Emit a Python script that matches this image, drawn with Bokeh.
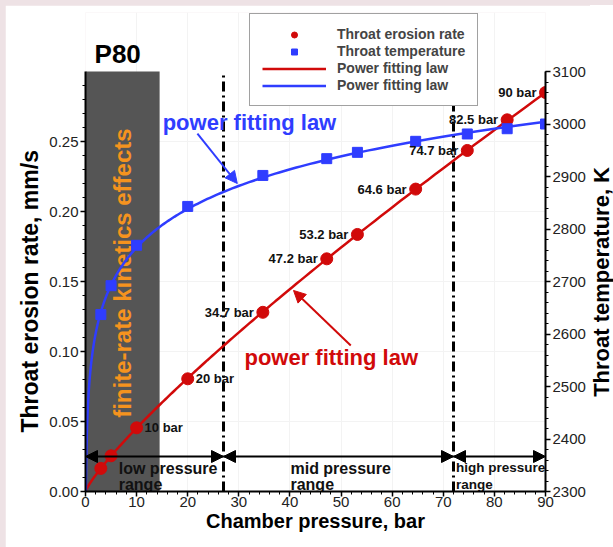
import math
import numpy as np
from bokeh.plotting import figure
from bokeh.layouts import row
from bokeh.models import (Range1d, LinearAxis, SingleIntervalTicker, PrintfTickFormatter,
                          BoxAnnotation, Arrow, NormalHead, Legend, LegendItem, Title, Div)
from bokeh.core.properties import value
from bokeh.embed import file_html
from bokeh.resources import INLINE

# ---------------- data ----------------
pressure = [3, 5, 10, 20, 34.7, 47.2, 53.2, 64.6, 74.7, 82.5, 90]
erosion = [0.0165, 0.0255, 0.0455, 0.0805, 0.128, 0.1662, 0.1836, 0.216, 0.2436, 0.2655, 0.285]
temperature = [2637, 2692, 2769, 2843, 2902, 2934, 2946, 2967, 2981, 2991, 3000]

right_label_p = [10, 20]
right_label_r = [0.0455, 0.0805]
right_label_text = ["10 bar", "20 bar"]
left_label_p = [34.7, 47.2, 53.2, 64.6, 74.7, 82.5, 90]
left_label_r = [0.128, 0.1662, 0.1836, 0.216, 0.2436, 0.2655, 0.285]
left_label_text = ["34.7 bar", "47.2 bar", "53.2 bar", "64.6 bar", "74.7 bar", "82.5 bar", "90 bar"]

range_bounds = [0, 27, 72, 90]
range_names = ["low pressure\nrange", "mid pressure\nrange", "high pressure\nrange"]
kinetic_limit = 14.5

x_axis_range = (0, 90)
erosion_axis_range = (0, 0.30)
temp_axis_range = (2300, 3100)

FONT_NAME = "Liberation Sans"
FONT = value(FONT_NAME)
RED = "#d10a0a"
BLUE = "#2f3dff"
ORANGE = "#f5931e"
PAGE_BAND = "#eee2e5"

# power-law fits of the data (log-log least squares)
lp = np.log(np.array(pressure))
b_r, lna_r = np.polyfit(lp, np.log(np.array(erosion)), 1)
b_t, lna_t = np.polyfit(lp, np.log(np.array(temperature)), 1)
fit_p = np.geomspace(0.02, 90, 400)
fit_r = np.exp(lna_r) * fit_p ** b_r
fit_t = np.exp(lna_t) * fit_p ** b_t

# ---------------- figure ----------------
# frame extends above the axes' top (0.30 / 3100) to hold the legend and the "P80" tag
FRAME_H = 479.0
AXIS_H = 420.0
y_top = erosion_axis_range[0] + (erosion_axis_range[1] - erosion_axis_range[0]) * FRAME_H / AXIS_H
t_top = temp_axis_range[0] + (temp_axis_range[1] - temp_axis_range[0]) * FRAME_H / AXIS_H

p = figure(width=585, height=542, output_backend="svg", toolbar_location=None,
           x_range=Range1d(*x_axis_range), y_range=Range1d(erosion_axis_range[0], y_top),
           min_border_left=80, min_border_right=45, min_border_top=7, min_border_bottom=56,
           margin=(5, 0, 0, 5))
p.title = None
p.extra_y_ranges = {"temp": Range1d(temp_axis_range[0], t_top)}
p.outline_line_color = None
p.background_fill_color = "white"
p.border_fill_color = "white"

p.xgrid.grid_line_color = "#f3f3f3"
p.ygrid.grid_line_color = "#f3f3f3"

# grey kinetics region
p.add_layout(BoxAnnotation(left=0, right=kinetic_limit, bottom=erosion_axis_range[0],
                           top=erosion_axis_range[1], fill_color="#555555", fill_alpha=1.0,
                           line_color=None, level="underlay"))

# axes
p.xaxis.ticker = SingleIntervalTicker(interval=10, num_minor_ticks=5)
p.yaxis.ticker = SingleIntervalTicker(interval=0.05, num_minor_ticks=5)
p.yaxis.formatter = PrintfTickFormatter(format="%.2f")
p.yaxis.bounds = erosion_axis_range
p.xaxis.axis_label = "Chamber pressure, bar"

raxis = LinearAxis(y_range_name="temp", ticker=SingleIntervalTicker(interval=100, num_minor_ticks=5),
                   bounds=temp_axis_range)
p.add_layout(raxis, "right")

for ax in [p.xaxis[0], p.yaxis[0], raxis]:
    ax.axis_line_width = 2
    ax.axis_line_color = "black"
    ax.major_tick_line_width = 1.5
    ax.major_tick_out = 5
    ax.major_tick_in = 0
    ax.minor_tick_out = 3
    ax.minor_tick_in = 0
    ax.minor_tick_line_width = 1
    ax.major_label_text_font = FONT_NAME
    ax.major_label_text_font_size = "15px"
    ax.major_label_text_color = "#222222"
    ax.major_label_standoff = 2
    ax.axis_label_text_font = FONT_NAME
    ax.axis_label_text_font_size = "20px"
    ax.axis_label_text_font_style = "bold"
    ax.axis_label_text_color = "black"
    ax.axis_label_standoff = 3
p.xaxis.major_label_standoff = 0
p.xaxis.axis_label_standoff = 0

# left axis title, aligned to the 0-0.30 axis span
p.add_layout(Title(text="Throat erosion rate, mm/s", align="left", offset=59, standoff=8,
                   text_font=FONT_NAME, text_font_size="23px", text_font_style="bold",
                   text_color="black"), "left")

# region separators (dash-dot)
sep = range_bounds[1:3]
p.segment(x0=sep, y0=[erosion_axis_range[0]] * 2, x1=sep, y1=[erosion_axis_range[1]] * 2,
          line_color="black", line_width=3, line_dash="10 4 2 4")

# range arrows
for i in range(3):
    p.add_layout(Arrow(x_start=range_bounds[i], x_end=range_bounds[i + 1], y_start=0.025, y_end=0.025,
                       line_color="black", line_width=2,
                       start=NormalHead(size=12, fill_color="black", line_color="black"),
                       end=NormalHead(size=12, fill_color="black", line_color="black")))
p.text(x=[range_bounds[0] + 6.5, range_bounds[1] + 13.1], y=[0.0225] * 2, text=range_names[:2],
       text_font=FONT, text_font_size="16px", text_font_style="bold", text_align="left",
       text_baseline="top", text_line_height=0.95, text_color="#111111")
p.text(x=[range_bounds[2] + 0.5], y=[0.0225], text=range_names[2:],
       text_font=FONT, text_font_size="13.5px", text_font_style="bold", text_align="left",
       text_baseline="top", text_line_height=1.1, text_color="#111111")

# kinetics text
p.text(x=[7.2], y=[0.156], text=["finite-rate kinetics effects"], angle=math.pi / 2,
       text_font=FONT, text_font_size="24px", text_font_style="bold", text_color=ORANGE,
       text_align="center", text_baseline="middle")

# fit lines
r_fit_r = p.line(fit_p, fit_r, line_color=RED, line_width=2.5)
r_fit_t = p.line(fit_p, fit_t, line_color=BLUE, line_width=2.5, y_range_name="temp")

# data points
r_ero = p.scatter(pressure, erosion, marker="circle", size=12, fill_color=RED, line_color=RED)
r_tmp = p.scatter(pressure, temperature, marker="square", size=10, fill_color=BLUE, line_color=BLUE,
                  y_range_name="temp")

# point labels
p.text(x=right_label_p, y=right_label_r, text=right_label_text, x_offset=8,
       text_font=FONT, text_font_size="13px", text_font_style="bold", text_align="left",
       text_baseline="middle", text_color="#111111")
p.text(x=left_label_p, y=left_label_r, text=left_label_text, x_offset=-9,
       text_font=FONT, text_font_size="13px", text_font_style="bold", text_align="right",
       text_baseline="middle", text_color="#111111")

# power-law annotations
p.text(x=[15.1], y=[0.2636], text=["power fitting law"], text_font=FONT, text_font_size="22px",
       text_font_style="bold", text_color=BLUE, text_baseline="middle", text_align="left")
p.add_layout(Arrow(x_start=21.9, y_start=0.2557, x_end=29.7, y_end=0.22, line_color=BLUE, line_width=2,
                   end=NormalHead(size=12, fill_color=BLUE, line_color=BLUE)))
p.text(x=[31.1], y=[0.0957], text=["power fitting law"], text_font=FONT, text_font_size="22px",
       text_font_style="bold", text_color=RED, text_baseline="middle", text_align="left")
p.add_layout(Arrow(x_start=51.9, y_start=0.1043, x_end=40.7, y_end=0.1436, line_color=RED, line_width=2,
                   end=NormalHead(size=12, fill_color=RED, line_color=RED)))

# P80 tag above the grey band
p.text(x=[6.3], y=[erosion_axis_range[1]], y_offset=-3, text=["P80"], text_font=FONT,
       text_font_size="26px", text_font_style="bold", text_align="center", text_baseline="bottom",
       text_color="black")

# legend
legend = Legend(items=[
    LegendItem(label="Throat erosion rate", renderers=[r_ero]),
    LegendItem(label="Throat temperature", renderers=[r_tmp]),
    LegendItem(label="Power fitting law", renderers=[r_fit_r]),
    LegendItem(label="Power fitting law", renderers=[r_fit_t]),
], location=(164, 385), margin=0, padding=12, spacing=1,
    glyph_width=64, glyph_height=15, label_height=15, label_standoff=11,
    label_text_font=FONT_NAME, label_text_font_size="14px", label_text_font_style="bold",
    border_line_color="#444444", border_line_width=1, background_fill_color="white",
    background_fill_alpha=1.0)
p.add_layout(legend, "center")

# right axis title (reads bottom to top, as in the reference)
right_title = Div(
    text=('<div style="display:inline-block; writing-mode:vertical-rl; transform:rotate(180deg); '
          'font-family:\'Liberation Sans\'; font-weight:bold; font-size:22px; line-height:22px; '
          'white-space:nowrap; color:black; margin-top:162px; margin-left:1px;">'
          'Throat temperature, K</div>'),
    width=23, height=542, margin=(5, 0, 0, 0), styles={"background-color": "white"})

layout = row(p, right_title, spacing=0, styles={"background-color": PAGE_BAND})
open("out.html", "w").write(file_html(layout, INLINE))
